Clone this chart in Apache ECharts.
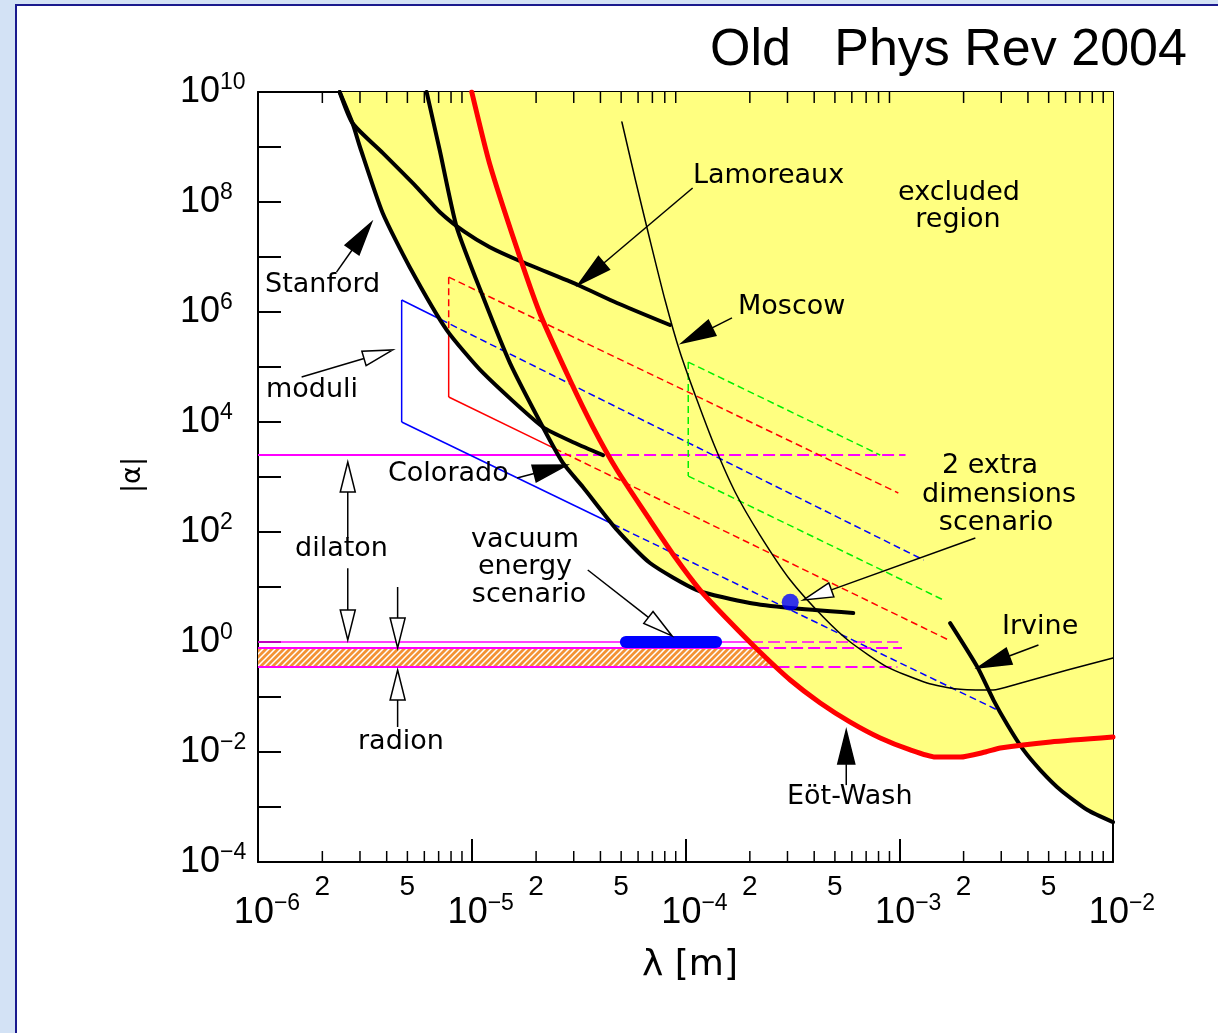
<!DOCTYPE html>
<html>
<head>
<meta charset="utf-8">
<script src="https://cdn.jsdelivr.net/npm/echarts@6/dist/echarts.min.js"></script>
<style>
html,body{margin:0;padding:0;background:#d3e2f5;}
#c{width:1218px;height:1033px;}
</style>
</head>
<body>
<div id="c"></div>
<script>
// ---------------- data: [lambda (m), |alpha|] ----------------
const stanford = [[2.41e-6,1e10],[2.77e-6,2.7e9],[3.0e-6,1.0e9],[3.83e-6,6.3e7],[5.12e-6,6.6e6],[7.64e-6,4.7e5],[1.13e-5,7.8e4],[2.15e-5,8.1e3],[3.04e-5,4.15e3],[4.11e-5,2.5e3]];
const lamoreaux = [[2.41e-6,1e10],[2.77e-6,2.7e9],[3.83e-6,7.8e8],[5.52e-6,1.87e8],[7.08e-6,6.6e7],[9.27e-6,2.85e7],[1.21e-5,1.52e7],[1.68e-5,8.46e6],[3.14e-5,3.1e6],[4.78e-5,1.46e6],[8.46e-5,5.8e5]];
const colorado = [[6.15e-6,1e10],[7.08e-6,8.8e8],[8.5e-6,3.5e7],[1.13e-5,1.87e6],[1.51e-5,1.18e5],[2.15e-5,8.1e3],[2.67e-5,1.8e3],[3.31e-5,658],[4.78e-5,109],[6.82e-5,27.3],[1.13e-4,8.8],[2.0e-4,5.1],[3.09e-4,4.15],[6.09e-4,3.37]];
const moscow = [[5.04e-5,2.85e9],[5.8e-5,2.73e8],[6.82e-5,2.04e7],[8.02e-5,1.65e6],[9.42e-5,1.87e5],[1.132e-4,2.5e4],[1.374e-4,3.5e3],[1.706e-4,534],[2.23e-4,88],[3.09e-4,13.4],[4.41e-4,2.85],[5.9e-4,1.0],[8.8e-4,0.35],[1.35e-3,0.18],[1.87e-3,0.14],[2.75e-3,0.134],[3.57e-3,0.172],[6.12e-3,0.31],[1e-2,0.51]];
const eotWash = [[1.0e-5,1e10],[1.21e-5,5.1e8],[1.62e-5,1.5e7],[2.08e-5,9.6e5],[2.88e-5,5.8e4],[3.69e-5,8.1e3],[4.78e-5,1.34e3],[6.82e-5,165],[8.93e-5,35.1],[1.17e-4,8.8],[1.616e-4,2.31],[2.23e-4,0.658],[3.09e-4,0.204],[4.27e-4,0.078],[5.9e-4,0.035],[8.15e-4,0.018],[1.126e-3,0.0109],[1.474e-3,0.0081],[1.93e-3,0.0081],[2.53e-3,0.01],[2.97e-3,0.0118],[5.1e-3,0.0152],[1e-2,0.0187]];
const irvine = [[1.73e-3,2.2],[2.32e-3,0.35],[2.76e-3,0.088],[3.21e-3,0.031],[3.81e-3,0.0109],[4.57e-3,0.0047],[5.68e-3,0.00204],[7.6e-3,8.8e-4],[1e-2,5.3e-4]];

// 2 extra dimensions scenario wedges
const moduliUpper = [[4.7e-6,1.65e6],[1.3e-3,31]];
const moduliLower = [[4.7e-6,1e4],[2.88e-3,0.058]];
const moduliEdge  = [[4.7e-6,1.65e6],[4.7e-6,1e4]];
const redUpper = [[7.8e-6,4.3e6],[9.9e-4,512]];
const redLower = [[7.8e-6,2.85e4],[1.7e-3,1.09]];
const redEdge  = [[7.8e-6,4.3e6],[7.8e-6,2.85e4]];
const greenUpper = [[1.03e-4,1.23e5],[8.15e-4,2.5e3]];
const greenLower = [[1.03e-4,1.04e3],[1.61e-3,5.8]];
const greenEdge  = [[1.03e-4,1.23e5],[1.03e-4,1.04e3]];
// dilaton / radion bands
const dilatonTop = [[1e-6,2.5e3],[1.07e-3,2.5e3]];
const dilatonBottom = [[1e-6,1.0],[9.9e-4,1.0]];
const radionTop = [[1e-6,0.78],[1.03e-3,0.78]];
const radionBottom = [[1e-6,0.35],[9.8e-4,0.35]];
const radionBand = [0.78, 0.35];
// vacuum energy scenario and 2-extra-dim point
const vacuumEnergy = [[5.26e-5,1],[1.39e-4,1]];
const extraDimPoint = [[3.09e-4,5.3]];

// annotation arrows: tail -> tip
const arrows = [
  {from:[1.08e-4,1.8e8], to:[3.14e-5,3.1e6], head:'filled'},   // Lamoreaux
  {from:[2.33e-6,5.3e6], to:[3.4e-6,4.3e7], head:'filled'},    // Stanford
  {from:[1.65e-4,7.8e5], to:[9.6e-5,2.73e5], head:'filled'},   // Moscow
  {from:[1.63e-5,960], to:[2.79e-5,1.65e3], head:'filled'},    // Colorado
  {from:[4.48e-3,0.88], to:[2.32e-3,0.337], head:'filled'},    // Irvine
  {from:[5.65e-4,2.5e-3], to:[5.65e-4,0.025], head:'filled'},  // Eot-Wash
  {from:[1.6e-6,6.6e4], to:[4.27e-6,2.04e5], head:'open'},     // moduli
  {from:[3.49e-5,20.4], to:[8.65e-5,1.29], head:'open'},       // vacuum energy
  {from:[2.27e-3,77.8], to:[3.55e-4,5.8], head:'open'},        // 2 extra dimensions
  {from:[2.63e-6,77.8], to:[2.63e-6,1.87e3], head:'open'},     // dilaton up
  {from:[2.63e-6,22], to:[2.63e-6,1.09], head:'open'},         // dilaton down
  {from:[4.5e-6,10], to:[4.5e-6,0.78], head:'open'},           // radion down
  {from:[4.5e-6,0.0285], to:[4.5e-6,0.31], head:'open'}        // radion up
];

// axes / ticks
const X_MIN = 1e-6, X_MAX = 1e-2, Y_MIN = 1e-4, Y_MAX = 1e10;
const xDecades = [-6,-5,-4,-3,-2];
const xMinorMultipliers = [2,3,4,5,6,7,8,9];
const xMinorLabels = [2,5];
const yLabelExponents = [10,8,6,4,2,0,-2,-4];

// ---------------- helpers ----------------
const L10 = Math.log10;
function logInterp(curve, x) {
  if (x < curve[0][0] || x > curve[curve.length-1][0]) return null;
  for (let i = 0; i < curve.length-1; i++) {
    const a = curve[i], b = curve[i+1];
    if (x >= a[0] && x <= b[0]) {
      const d = L10(b[0]) - L10(a[0]);
      const t = d === 0 ? 0 : (L10(x) - L10(a[0])) / d;
      return Math.pow(10, L10(a[1]) + t*(L10(b[1]) - L10(a[1])));
    }
  }
  return null;
}
const limitCurves = [stanford, lamoreaux, colorado, moscow, eotWash, irvine];
function envelope(x) {
  let m = Infinity;
  limitCurves.forEach(c => { const v = logInterp(c, x); if (v !== null && v < m) m = v; });
  return m;
}
// excluded region polygon (above the lowest limit curve)
const excludedPolygon = (function(){
  const x0 = stanford[0][0];
  let xs = [];
  limitCurves.forEach(c => c.forEach(p => { if (p[0] >= x0 && p[0] <= X_MAX) xs.push(p[0]); }));
  const N = 700;
  for (let i = 0; i <= N; i++) xs.push(Math.pow(10, L10(x0) + (L10(X_MAX)-L10(x0))*i/N));
  xs.sort((a,b)=>a-b);
  const pts = xs.map(x => [x, Math.min(envelope(x), Y_MAX)]);
  pts.push([X_MAX, Y_MAX]);
  return pts;
})();
function envCross(alpha) {
  let lo = L10(1e-5), hi = L10(1e-3);
  for (let i = 0; i < 60; i++) {
    const mid = (lo+hi)/2;
    if (envelope(Math.pow(10,mid)) > alpha) lo = mid; else hi = mid;
  }
  return Math.pow(10,(lo+hi)/2);
}
const hatchPolygon = [[X_MIN,radionBand[0]],[envCross(radionBand[0]),radionBand[0]],[envCross(radionBand[1]),radionBand[1]],[X_MIN,radionBand[1]]];

function splitByRegion(seg) {
  const [p0,p1] = seg, N = 400;
  const s = [];
  for (let i = 0; i <= N; i++) {
    const t = i/N;
    const x = Math.pow(10, L10(p0[0]) + t*(L10(p1[0])-L10(p0[0])));
    const y = Math.pow(10, L10(p0[1]) + t*(L10(p1[1])-L10(p0[1])));
    s.push({p:[x,y], inside: y > envelope(x)});
  }
  const runs = []; let start = 0;
  for (let i = 1; i <= N; i++) {
    if (i === N || s[i].inside !== s[start].inside) {
      runs.push({inside: s[start].inside, pts:[s[start].p, s[i].p]});
      start = i;
    }
  }
  return runs;
}
function scenario(seg, color, width, dash) {
  return splitByRegion(seg).map(r => ({
    type:'line', data:r.pts, showSymbol:false, silent:true, z:4, clip:true,
    lineStyle:{color:color, width:width, type: r.inside ? dash : 'solid'}
  }));
}
function curve(data, color, width, z) {
  return {type:'line', data:data, showSymbol:false, silent:true, smooth:0.2, z:z||6, clip:true,
          lineStyle:{color:color, width:width, cap:'round', join:'round'}};
}

// hatch pattern for radion band
const pc = document.createElement('canvas');
pc.width = 6; pc.height = 6;
(function(){
  const g = pc.getContext('2d');
  g.fillStyle = '#f39234'; g.fillRect(0,0,6,6);
  g.strokeStyle = '#ffffff'; g.lineWidth = 1.5;
  g.beginPath();
  g.moveTo(-1,7); g.lineTo(7,-1);
  g.moveTo(-1,1); g.lineTo(1,-1);
  g.moveTo(5,7); g.lineTo(7,5);
  g.stroke();
})();

const TICKFONT = '"Liberation Sans",sans-serif';
const TXT = '"DejaVu Sans",sans-serif';
function expStr(e){ return e < 0 ? '\u2212' + (-e) : String(e); }
const richLabel = {
  b:{fontSize:36, fontFamily:TICKFONT, color:'#000', lineHeight:42},
  s:{fontSize:23, fontFamily:TICKFONT, color:'#000', lineHeight:23, verticalAlign:'top'}
};

// minor tick data
const minorTickData = [];
xDecades.slice(0,-1).forEach(d => xMinorMultipliers.forEach(k => minorTickData.push([k*Math.pow(10,d), Y_MIN, k])));

const axisCommon = {
  type:'log', logBase:10,
  axisLine:{show:true, onZero:false, lineStyle:{color:'#000', width:2}},
  axisTick:{show:true, inside:true, length:23, lineStyle:{color:'#000', width:2}},
  splitLine:{show:false}, minorTick:{show:false}, minorSplitLine:{show:false}
};

const labelTexts = [
  ['Lamoreaux', 693, 176, 'left'],
  ['excluded', 959, 193, 'center'],
  ['region', 958, 220, 'center'],
  ['Stanford', 265, 285, 'left'],
  ['Moscow', 738, 307, 'left'],
  ['moduli', 266, 390, 'left'],
  ['Colorado', 388, 474, 'left'],
  ['2 extra', 990, 466, 'center'],
  ['dimensions', 999, 495, 'center'],
  ['scenario', 996, 523, 'center'],
  ['dilaton', 295, 549, 'left'],
  ['vacuum', 525, 540, 'center'],
  ['energy', 525, 567, 'center'],
  ['scenario', 529, 595, 'center'],
  ['Irvine', 1002, 627, 'left'],
  ['radion', 358, 742, 'left'],
  ['E\u00f6t-Wash', 787, 797, 'left']
];
function gText(str, x, y, align, font, extra) {
  return Object.assign({type:'text', x:x, y:y, z:100, silent:true,
    style:{text:str, font:font, fill:'#000', align:align, verticalAlign:'middle', textAlign:align, textVerticalAlign:'middle'}}, extra||{});
}

const graphics = [
  {type:'rect', z:-10, silent:true, shape:{x:16, y:5, width:1240, height:1060}, style:{fill:'#ffffff', stroke:'#1a1a8e', lineWidth:2}},
  gText('Old   Phys Rev 2004', 710, 51, 'left', '52px "Liberation Sans",sans-serif'),
  gText('\u03bb [m]', 690, 966, 'center', '36px ' + TXT),
  gText('|\u03b1|', 133, 475, 'center', '27px ' + TXT, {rotation: Math.PI/2})
].concat(labelTexts.map(t => gText(t[0], t[1], t[2], t[3], '27px ' + TXT)));

const series = [];
// excluded region
series.push({type:'custom', coordinateSystem:'cartesian2d', silent:true, z:1, clip:false,
  data:[[1e-4,1]], encode:{x:0,y:1},
  renderItem:(params, api) => ({type:'polygon', shape:{points: excludedPolygon.map(p => api.coord(p))}, style:{fill:'#ffff80'}})
});
// radion hatched band
series.push({type:'custom', coordinateSystem:'cartesian2d', silent:true, z:2, clip:false,
  data:[[1e-5,0.5]], encode:{x:0,y:1},
  renderItem:(params, api) => ({type:'polygon', shape:{points: hatchPolygon.map(p => api.coord(p))}, style:{fill:{image:pc, repeat:'repeat'}}})
});
// minor x ticks + "2","5" labels
series.push({type:'custom', coordinateSystem:'cartesian2d', silent:true, z:10, clip:false,
  data:minorTickData, encode:{x:0,y:1},
  renderItem:(params, api) => {
    const x = api.value(0), k = api.value(2);
    const b = api.coord([x, Y_MIN]), t = api.coord([x, Y_MAX]);
    const ch = [
      {type:'line', shape:{x1:b[0],y1:b[1],x2:b[0],y2:b[1]-11}, style:{stroke:'#000', lineWidth:1.5}},
      {type:'line', shape:{x1:t[0],y1:t[1],x2:t[0],y2:t[1]+11}, style:{stroke:'#000', lineWidth:1.5}}
    ];
    if (xMinorLabels.indexOf(k) >= 0) {
      ch.push({type:'text', x:b[0], y:b[1]+25, style:{text:String(k), font:'28px "Liberation Sans",sans-serif', fill:'#000', align:'center', verticalAlign:'middle', textAlign:'center', textVerticalAlign:'middle'}});
    }
    return {type:'group', children:ch};
  }
});
// dilaton / radion lines and extra-dimension wedges
[].concat(
  scenario(dilatonTop, '#ff00ff', 2, [12,5]),
  scenario(dilatonBottom, '#ff00ff', 1.5, [12,5]),
  scenario(radionTop, '#ff00ff', 2, [12,5]),
  scenario(radionBottom, '#ff00ff', 2, [12,5]),
  scenario(moduliEdge, '#0000ff', 1.5, [7,4]),
  scenario(moduliUpper, '#0000ff', 1.5, [7,4]),
  scenario(moduliLower, '#0000ff', 1.5, [7,4]),
  scenario(redEdge, '#ff0000', 1.5, [7,4]),
  scenario(redUpper, '#ff0000', 1.5, [7,4]),
  scenario(redLower, '#ff0000', 1.5, [7,4]),
  scenario(greenEdge, '#00f000', 1.5, [7,4]),
  scenario(greenUpper, '#00f000', 1.5, [7,4]),
  scenario(greenLower, '#00f000', 1.5, [7,4])
).forEach(s => series.push(s));
// experimental limits
series.push(curve(moscow, '#000', 1.5, 6));
series.push(curve(stanford, '#000', 4, 6));
series.push(curve(lamoreaux, '#000', 4, 6));
series.push(curve(colorado, '#000', 4, 6));
series.push(curve(irvine, '#000', 4, 6));
series.push(curve(eotWash, '#ff0000', 5, 7));
// vacuum energy bar and point
series.push({type:'line', data:vacuumEnergy, showSymbol:false, silent:true, z:8,
  lineStyle:{color:'#0000ff', width:12, cap:'round'}});
series.push({type:'scatter', data:extraDimPoint, symbol:'circle', symbolSize:17, silent:true, z:9,
  itemStyle:{color:'#0000ff'}});
// arrows
series.push({type:'custom', coordinateSystem:'cartesian2d', silent:true, z:20, clip:false,
  data:arrows.map(a => [a.to[0], a.to[1]]), encode:{x:0,y:1},
  renderItem:(params, api) => {
    const a = arrows[params.dataIndex];
    const t = api.coord(a.from), h = api.coord(a.to);
    const dx = h[0]-t[0], dy = h[1]-t[1], len = Math.hypot(dx,dy);
    const ux = dx/len, uy = dy/len;
    const filled = a.head === 'filled';
    const L = filled ? 34 : 30, W = filled ? 8.5 : 7.5;
    const bx = h[0]-ux*L, by = h[1]-uy*L, px = -uy, py = ux;
    return {type:'group', children:[
      {type:'line', shape:{x1:t[0],y1:t[1],x2:bx,y2:by}, style:{stroke:'#000', lineWidth:1.5}},
      {type:'polygon', shape:{points:[[h[0],h[1]],[bx+px*W,by+py*W],[bx-px*W,by-py*W]]},
       style:{fill: filled ? '#000' : '#fff', stroke:'#000', lineWidth:1.5, lineJoin:'miter'}}
    ]};
  }
});

const option = {
  animation:false,
  backgroundColor:'#d3e2f5',
  grid:{left:258, top:92, right:105, bottom:171, containLabel:false, outerBoundsMode:'none'},
  xAxis:[
    Object.assign({}, axisCommon, {position:'bottom', min:X_MIN, max:X_MAX, interval:1, splitNumber:4,
      axisLabel:{show:true, margin:30, padding:[0,0,0,18], showMinLabel:true, showMaxLabel:true,
        formatter: v => { const e = Math.round(L10(v)); return xDecades.indexOf(e) >= 0 ? '{b|10}{s|' + expStr(e) + '}' : ''; },
        rich: richLabel}}),
    Object.assign({}, axisCommon, {position:'top', min:X_MIN, max:X_MAX, interval:1, splitNumber:4, axisLabel:{show:false}})
  ],
  yAxis:[
    Object.assign({}, axisCommon, {position:'left', min:Y_MIN, max:Y_MAX, interval:1, splitNumber:14,
      axisLabel:{show:true, margin:78, align:'left', showMinLabel:true, showMaxLabel:true,
        formatter: v => { const e = Math.round(L10(v)); return yLabelExponents.indexOf(e) >= 0 ? '{b|10}{s|' + expStr(e) + '}' : ''; },
        rich: richLabel}}),
    Object.assign({}, axisCommon, {position:'right', min:Y_MIN, max:Y_MAX, interval:1, splitNumber:14, axisLabel:{show:false}})
  ],
  series: series,
  graphic: graphics
};

const chart = echarts.init(document.getElementById('c'), null, {renderer:'canvas', width:1218, height:1033});
chart.setOption(option);
</script>
</body>
</html>
